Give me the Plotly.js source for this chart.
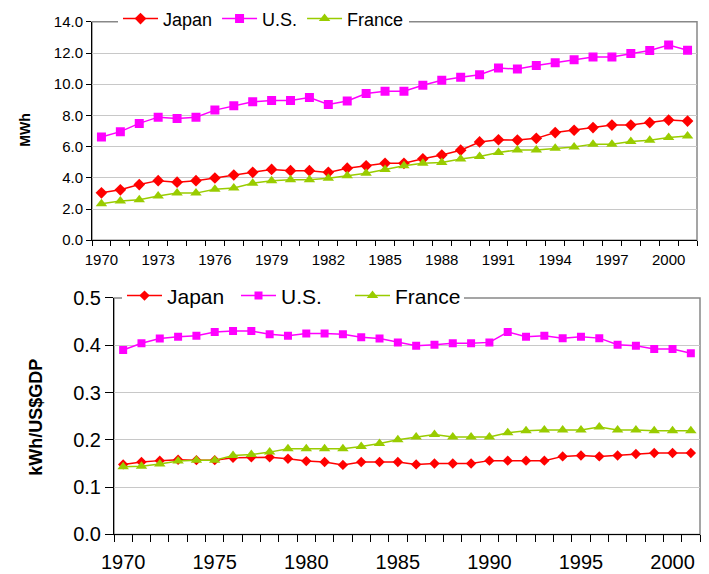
<!DOCTYPE html>
<html>
<head>
<meta charset="utf-8">
<script src="https://cdn.plot.ly/plotly-3.0.1.min.js"></script>
<style>html,body{margin:0;padding:0;background:#fff;}#chart{width:709px;height:574px;}</style>
</head>
<body>
<div id="chart"></div>
<script>
const years = [1970,1971,1972,1973,1974,1975,1976,1977,1978,1979,1980,1981,1982,1983,1984,1985,1986,1987,1988,1989,1990,1991,1992,1993,1994,1995,1996,1997,1998,1999,2000,2001];

// Top panel: MWh
const japanMWh = [3.04,3.23,3.57,3.82,3.72,3.82,3.99,4.18,4.35,4.54,4.46,4.46,4.35,4.62,4.77,4.93,4.93,5.22,5.46,5.77,6.30,6.44,6.42,6.53,6.90,7.05,7.22,7.38,7.38,7.54,7.70,7.64];
const usMWh    = [6.62,6.96,7.49,7.89,7.81,7.89,8.34,8.62,8.87,8.96,8.96,9.15,8.70,8.93,9.40,9.55,9.55,9.93,10.25,10.44,10.61,11.04,10.97,11.20,11.37,11.57,11.74,11.74,11.97,12.16,12.52,12.18];
const franceMWh= [2.34,2.51,2.59,2.83,3.02,3.02,3.27,3.35,3.65,3.82,3.88,3.88,3.97,4.13,4.29,4.54,4.77,4.93,4.99,5.20,5.37,5.63,5.79,5.79,5.90,5.98,6.16,6.16,6.33,6.41,6.58,6.68];

// Bottom panel: kWh/US$GDP
const japanInt = [0.148,0.153,0.156,0.158,0.157,0.157,0.162,0.163,0.163,0.160,0.155,0.153,0.147,0.153,0.153,0.153,0.148,0.150,0.150,0.150,0.156,0.156,0.156,0.156,0.165,0.167,0.165,0.167,0.170,0.172,0.172,0.172];
const usInt    = [0.390,0.404,0.414,0.418,0.420,0.428,0.430,0.430,0.423,0.420,0.425,0.425,0.423,0.417,0.414,0.406,0.399,0.401,0.404,0.404,0.406,0.428,0.418,0.420,0.415,0.418,0.415,0.401,0.399,0.392,0.392,0.383];
const franceInt= [0.143,0.144,0.149,0.155,0.157,0.157,0.167,0.169,0.174,0.181,0.181,0.181,0.181,0.186,0.192,0.200,0.206,0.211,0.206,0.206,0.206,0.215,0.219,0.221,0.221,0.221,0.227,0.221,0.221,0.219,0.219,0.219];

const seriesNames = ['Japan','U.S.','France'];
const topTickYears = [1970,1973,1976,1979,1982,1985,1988,1991,1994,1997,2000];
const bottomTickYears = [1970,1975,1980,1985,1990,1995,2000];

(function(){
const colors = ['#FF0000','#FF00FF','#99CC00'];
const symbols = ['diamond','square','triangle-up'];
const FONT = 'Liberation Sans, Arial, sans-serif';

const topData = [japanMWh, usMWh, franceMWh];
const botData = [japanInt, usInt, franceInt];
const traces = [];
topData.forEach((d,i)=>traces.push({
  x: years, y: d, name: seriesNames[i], type:'scatter', mode:'lines+markers',
  xaxis:'x', yaxis:'y', legend:'legend',
  line:{color:colors[i], width:1.5},
  marker:{symbol:symbols[i], color:colors[i], size: i===2?10:9}
}));
botData.forEach((d,i)=>traces.push({
  x: years, y: d, name: seriesNames[i], type:'scatter', mode:'lines+markers',
  xaxis:'x2', yaxis:'y2', legend:'legend2',
  line:{color:colors[i], width:1.5},
  marker:{symbol:symbols[i], color:colors[i], size: i===2?10:8}
}));

const W=709, H=574;
const pTop = {l:92, r:697, t:16, b:236.7};
const pBot = {l:114, r:700, t:295, b:534};

function xax(p, tickvals, fs){
  return {
    domain:[p.l/W, p.r/W], range:[1969.5, 2001.5], showgrid:false, zeroline:false,
    showline:true, linecolor:'#000', linewidth:1,
    tickmode:'array', tickvals:tickvals, ticks:'outside', ticklen: fs>16?10:6, tickcolor:'rgba(0,0,0,0)',
    tickfont:{family:FONT, size:fs, color:'#000'},
    minor:{tickmode:'linear', tick0:1969.5, dtick:1, ticks:'outside', ticklen: fs>16?7:5, tickcolor:'#000', showgrid:false},
    fixedrange:true
  };
}
function yax(p, range, dtick, fs, tlen, xa){
  return {
    domain:[1-p.b/H, 1-p.t/H], range:range, dtick:dtick, tick0:0, tickformat:'.1f',
    showgrid:true, gridcolor:'#C8C8C8', gridwidth:1, zeroline:false,
    showline:true, linecolor:'#000', linewidth:1, anchor:xa,
    ticks:'outside', ticklen:tlen, tickcolor:'#000',
    tickfont:{family:FONT, size:fs, color:'#000'}, fixedrange:true
  };
}

const layout = {
  width:W, height:H, margin:{l:0,r:0,t:0,b:0},
  paper_bgcolor:'#fff', plot_bgcolor:'#fff',
  font:{family:FONT, color:'#000'},
  xaxis: Object.assign(xax(pTop, topTickYears, 15), {anchor:'y'}),
  yaxis: yax(pTop, [0,14], 2, 15, 5, 'x'),
  xaxis2: Object.assign(xax(pBot, bottomTickYears, 20), {anchor:'y2'}),
  yaxis2: yax(pBot, [0,0.5], 0.1, 20, 8, 'x2'),
  legend:{orientation:'h', x:118/W, xanchor:'left', y:1-13/H, yanchor:'middle', itemwidth:35,
    bgcolor:'#fff', borderwidth:0, font:{family:FONT, size:18, color:'#000'}, itemclick:false},
  legend2:{orientation:'h', x:122/W, xanchor:'left', y:1-293/H, yanchor:'middle', itemwidth:35, entrywidth:64,
    bgcolor:'#fff', borderwidth:0, font:{family:FONT, size:21, color:'#000'}, itemclick:false},
  shapes:[
    {type:'rect', xref:'paper', yref:'paper', x0:pTop.l/W, x1:pTop.r/W, y0:1-pTop.b/H, y1:1-pTop.t/H, line:{color:'#888', width:1.5}, layer:'below'},
    {type:'rect', xref:'paper', yref:'paper', x0:pBot.l/W, x1:pBot.r/W, y0:1-pBot.b/H, y1:1-pBot.t/H, line:{color:'#888', width:1.5}, layer:'below'}
  ],
  annotations:[
    {text:'<b>MWh</b>', xref:'paper', yref:'paper', x:25/W, y:1-126/H, showarrow:false, textangle:-90,
      font:{family:FONT, size:14, color:'#000'}, xanchor:'center', yanchor:'middle'},
    {text:'<b>kWh/US$GDP</b>', xref:'paper', yref:'paper', x:36/W, y:1-416/H, showarrow:false, textangle:-90,
      font:{family:FONT, size:18, color:'#000'}, xanchor:'center', yanchor:'middle'}
  ]
};

Plotly.newPlot('chart', traces, layout, {displayModeBar:false, staticPlot:true});
})();
</script>
</body>
</html>
